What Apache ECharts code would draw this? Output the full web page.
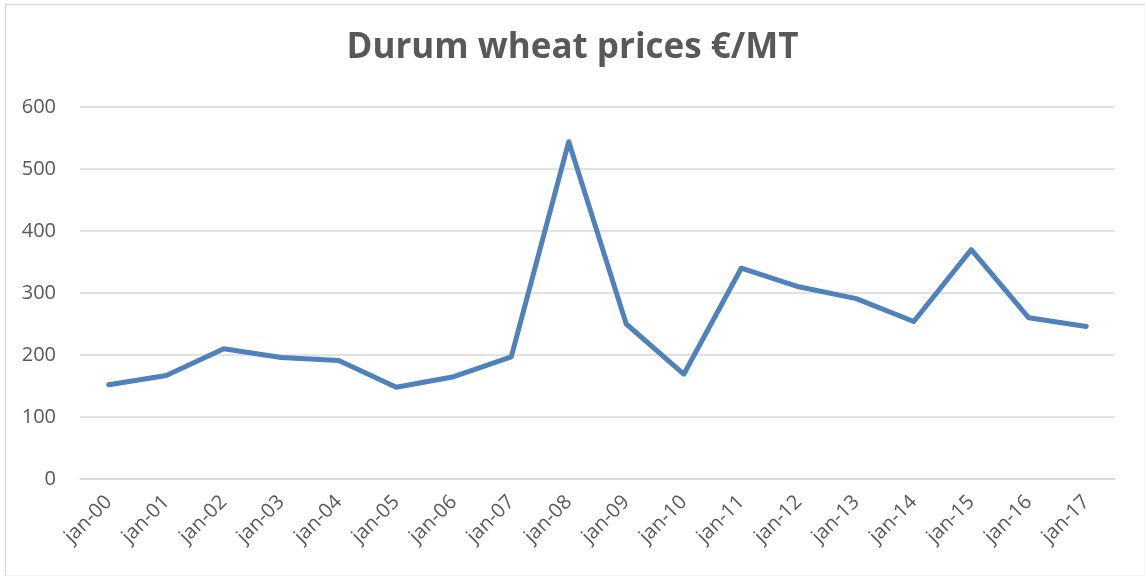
<!DOCTYPE html>
<html>
<head>
<meta charset="utf-8">
<script src="https://cdn.jsdelivr.net/npm/echarts@6/dist/echarts.min.js"></script>
<style>
  html, body { margin: 0; padding: 0; background: #fff; }
  #chart { width: 1145px; height: 576px; }
</style>
</head>
<body>
<div id="chart"></div>
<script>
const categories = ['jan-00', 'jan-01', 'jan-02', 'jan-03', 'jan-04', 'jan-05', 'jan-06', 'jan-07', 'jan-08',
  'jan-09', 'jan-10', 'jan-11', 'jan-12', 'jan-13', 'jan-14', 'jan-15', 'jan-16', 'jan-17'];
const prices = [152, 167, 210, 196, 191, 148, 165, 197, 544, 250, 169, 340, 310, 291, 254, 370, 260, 246];
const yTicks = [0, 100, 200, 300, 400, 500, 600];

const textColor = '#595959';
const fontFamily = '"Open Sans", "Liberation Sans", sans-serif';

let chart = echarts.init(document.getElementById('chart'));
chart.setOption({
    animation: false,
    title: {
        text: 'Durum wheat prices €/MT',
        left: 'center',
        top: 26,
        textStyle: {
            color: textColor,
            fontSize: 35,
            fontWeight: 'bold',
            fontFamily: fontFamily
        }
    },
    grid: {
        left: 80,
        right: 30,
        top: 107,
        bottom: 97
    },
    xAxis: {
        type: 'category',
        data: categories,
        boundaryGap: true,
        axisLine: { show: true, lineStyle: { color: '#d9d9d9', width: 1.5 } },
        axisTick: { show: false },
        axisLabel: {
            rotate: 45,
            margin: 20,
            color: textColor,
            fontSize: 20,
            fontFamily: fontFamily,
            interval: 0
        }
    },
    yAxis: {
        type: 'value',
        min: yTicks[0],
        max: yTicks[yTicks.length - 1],
        interval: 100,
        axisLine: { show: false },
        axisTick: { show: false },
        axisLabel: {
            margin: 24,
            color: textColor,
            fontSize: 20,
            fontFamily: fontFamily
        },
        splitLine: { lineStyle: { color: '#d9d9d9', width: 1.5 } }
    },
    series: [{
        type: 'line',
        data: prices,
        symbol: 'none',
        lineStyle: { color: '#4f81bd', width: 5, cap: 'round', join: 'round' }
    }],
    graphic: {
        elements: [{
            type: 'rect',
            left: 3,
            top: 2,
            shape: { width: 1140, height: 572 },
            style: { fill: 'none', stroke: '#d9d9d9', lineWidth: 1.5 },
            silent: true
        }]
    }
});
</script>
</body>
</html>
